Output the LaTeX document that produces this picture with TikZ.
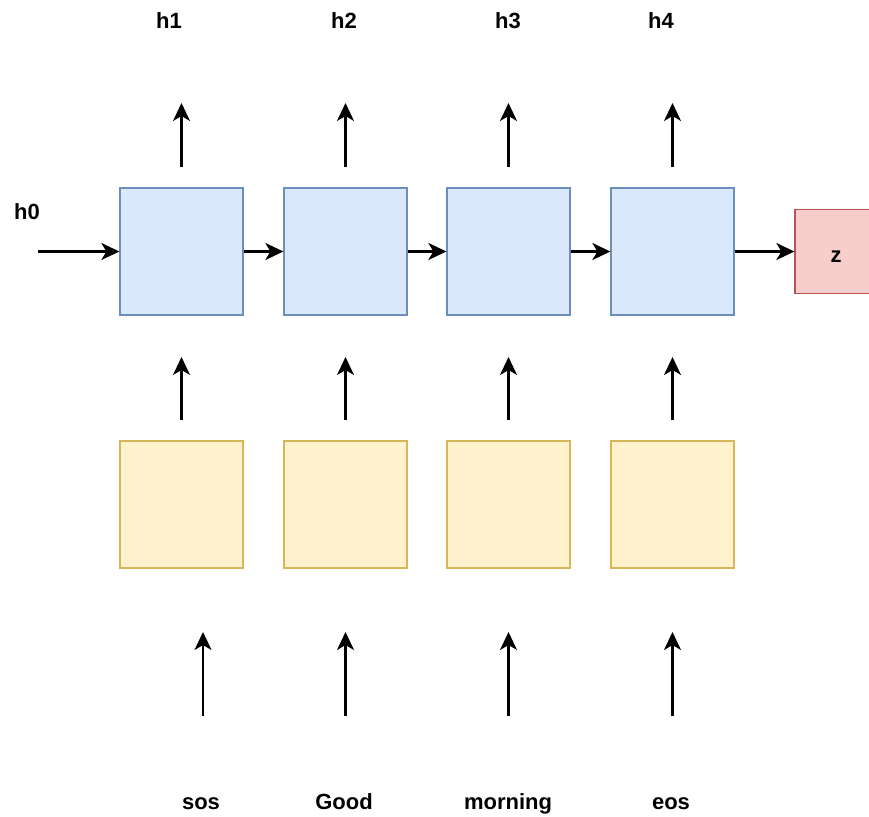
\documentclass[tikz,border=0pt]{standalone}
\usepackage{fontspec}
\setmainfont{Liberation Sans}
\usepackage{tikz}
\usetikzlibrary{arrows.meta}
\definecolor{cellfill}{HTML}{DAE8FC}
\definecolor{cellline}{HTML}{6C8EBF}
\definecolor{embfill}{HTML}{FFF2CC}
\definecolor{embline}{HTML}{D6B656}
\definecolor{zfill}{HTML}{F8CECC}
\definecolor{zline}{HTML}{B85450}

\begin{document}
\begin{tikzpicture}[x=1pt, y=-1pt,
  cell/.style={rectangle, draw=cellline, fill=cellfill, line width=1.3pt, minimum width=123pt, minimum height=127pt, inner sep=0pt},
  emb/.style={rectangle, draw=embline, fill=embfill, line width=1.3pt, minimum width=123pt, minimum height=127pt, inner sep=0pt},
  zbox/.style={rectangle, draw=zline, fill=zfill, line width=1.3pt, minimum width=82pt, minimum height=84pt, inner sep=0pt},
  lbl/.style={font=\bfseries\fontsize{22}{26}\selectfont, inner sep=0pt, anchor=base},
  arr/.style={-{Stealth[length=18pt, width=17pt, inset=5pt]}, line width=2.2pt}]
\useasboundingbox (0,0) rectangle (869,816);
\clip (0,0) rectangle (869,816);

\node[cell] (C1) at (181.5,251.5) {};
\node[cell] (C2) at (345.5,251.5) {};
\node[cell] (C3) at (508.5,251.5) {};
\node[cell] (C4) at (672.5,251.5) {};
\node[emb] (E1) at (181.5,504.5) {};
\node[emb] (E2) at (345.5,504.5) {};
\node[emb] (E3) at (508.5,504.5) {};
\node[emb] (E4) at (672.5,504.5) {};
\node[zbox] (Z) at (836,251.5) {};
\node[lbl] (z) at (836,262) {z};

\node[lbl] (h0) at (27,219) {h0};
\node[lbl] (h1) at (169,29) {h1};
\node[lbl] (h2) at (344,29) {h2};
\node[lbl] (h3) at (508,29) {h3};
\node[lbl] (h4) at (661,29) {h4};
\node[lbl] (sos) at (201,809) {sos};
\node[lbl] (good) at (344,809) {Good};
\node[lbl] (morning) at (508,809) {morning};
\node[lbl] (eos) at (671,809) {eos};

\coordinate (in0) at (38,251.5);
\coordinate (T1a) at (181.5,167); \coordinate (T1b) at (181.5,103);
\coordinate (T2a) at (345.5,167); \coordinate (T2b) at (345.5,103);
\coordinate (T3a) at (508.5,167); \coordinate (T3b) at (508.5,103);
\coordinate (T4a) at (672.5,167); \coordinate (T4b) at (672.5,103);
\coordinate (M1a) at (181.5,420); \coordinate (M1b) at (181.5,357);
\coordinate (M2a) at (345.5,420); \coordinate (M2b) at (345.5,357);
\coordinate (M3a) at (508.5,420); \coordinate (M3b) at (508.5,357);
\coordinate (M4a) at (672.5,420); \coordinate (M4b) at (672.5,357);
\coordinate (B1a) at (203,716); \coordinate (B1b) at (203,632);
\coordinate (B2a) at (345.5,716); \coordinate (B2b) at (345.5,632);
\coordinate (B3a) at (508.5,716); \coordinate (B3b) at (508.5,632);
\coordinate (B4a) at (672.5,716); \coordinate (B4b) at (672.5,632);

\draw[arr] (in0) -- (C1);
\draw[arr] (C1) -- (C2);
\draw[arr] (C2) -- (C3);
\draw[arr] (C3) -- (C4);
\draw[arr] (C4) -- (Z);
\draw[arr] (T1a) -- (T1b);
\draw[arr] (T2a) -- (T2b);
\draw[arr] (T3a) -- (T3b);
\draw[arr] (T4a) -- (T4b);
\draw[arr] (M1a) -- (M1b);
\draw[arr] (M2a) -- (M2b);
\draw[arr] (M3a) -- (M3b);
\draw[arr] (M4a) -- (M4b);
\draw[arr] (B1a) -- (B1b);
\draw[arr] (B2a) -- (B2b);
\draw[arr] (B3a) -- (B3b);
\draw[arr] (B4a) -- (B4b);
\end{tikzpicture}
\end{document}
